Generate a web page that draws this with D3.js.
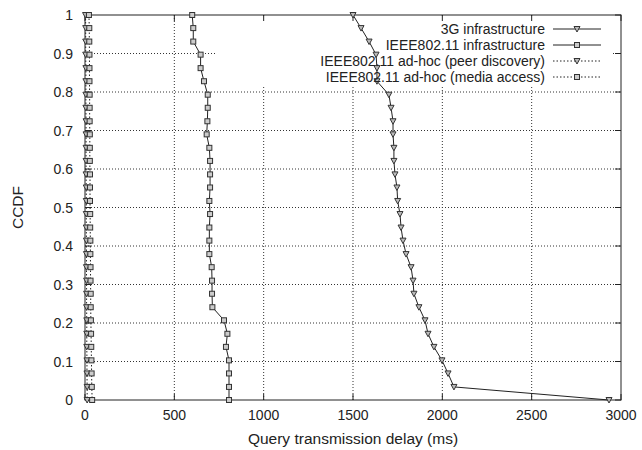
<!DOCTYPE html>
<html lang="en">
<head>
<meta charset="UTF-8">
<title>CCDF of query transmission delay</title>
<script src="https://d3js.org/d3.v7.min.js"></script>
<style>
    body { margin: 0; background: #fff; }
    text { font-family: "Liberation Sans", Arial, sans-serif; font-size: 14px; fill: #222; }
    .title { font-size: 15.5px; }
    .grid { stroke: #333; stroke-width: 1; stroke-dasharray: 1,2; fill: none; }
    .frame { stroke: #222; stroke-width: 1; fill: none; }
</style>
</head>
<body>
<svg width="642" height="450"></svg>
<script>
// CCDF levels shared by every series
const ccdf = [1, 0.966, 0.931, 0.897, 0.862, 0.828, 0.793, 0.759, 0.724, 0.690,
              0.655, 0.621, 0.586, 0.552, 0.517, 0.483, 0.448, 0.414, 0.379, 0.345,
              0.310, 0.276, 0.241, 0.207, 0.172, 0.138, 0.103, 0.069, 0.034, 0];

// delays in ms
const g3Infra = [1500, 1545, 1590, 1629, 1634, 1634, 1701, 1713, 1724, 1724,
                 1729, 1729, 1735, 1746, 1750, 1763, 1769, 1780, 1797, 1825,
                 1836, 1841, 1869, 1903, 1920, 1953, 1998, 2032, 2065, 2933];
const wifiInfra = [600, 606, 606, 647, 647, 666, 687, 687, 685, 681,
                   696, 700, 700, 700, 696, 700, 696, 696, 696, 709,
                   711, 711, 713, 778, 797, 789, 806, 806, 806, 806];
const adhocPeer = [3, 4, 4, 4, 5, 5, 5, 5, 6, 6,
                   6, 6, 6, 7, 7, 7, 7, 8, 8, 8,
                   9, 9, 9, 10, 10, 10, 11, 11, 12, 12];
const adhocMedia = [22, 24, 24, 25, 25, 25, 26, 26, 26, 27,
                    27, 27, 28, 28, 28, 29, 29, 30, 30, 31,
                    31, 32, 32, 33, 34, 35, 36, 37, 38, 40];

const xTicks = [0, 500, 1000, 1500, 2000, 2500, 3000];
const yTicks = [0, 0.1, 0.2, 0.3, 0.4, 0.5, 0.6, 0.7, 0.8, 0.9, 1];

const seriesNames = ["3G infrastructure", "IEEE802.11 infrastructure",
                     "IEEE802.11 ad-hoc (peer discovery)", "IEEE802.11 ad-hoc (media access)"];

const series = [
    { name: seriesNames[0], xs: g3Infra, marker: "tri", dash: null },
    { name: seriesNames[1], xs: wifiInfra, marker: "sq", dash: null },
    { name: seriesNames[2], xs: adhocPeer, marker: "tri", dash: "1.5,2" },
    { name: seriesNames[3], xs: adhocMedia, marker: "sq", dash: "1.5,2" }
];

const svg = d3.select("svg");
const L = 85, R = 621, T = 15, B = 400;

const x = d3.scaleLinear().domain([0, 3000]).range([L, R]);
const y = d3.scaleLinear().domain([0, 1]).range([B, T]);

// grid
const grid = svg.append("g");
grid.selectAll("line.gy").data(yTicks.slice(1, -1)).enter().append("line")
    .attr("class", "grid")
    .attr("x1", L).attr("x2", R)
    .attr("y1", d => y(d)).attr("y2", d => y(d));
grid.selectAll("line.gx").data(xTicks.slice(1, -1)).enter().append("line")
    .attr("class", "grid")
    .attr("x1", d => x(d)).attr("x2", d => x(d))
    .attr("y1", T).attr("y2", B);

// key background blanks the grid behind it
svg.append("rect")
    .attr("x", 217).attr("y", T + 2)
    .attr("width", 395).attr("height", 68)
    .attr("fill", "#fff");

// frame + ticks (inward, mirrored)
svg.append("rect").attr("class", "frame")
    .attr("x", L).attr("y", T).attr("width", R - L).attr("height", B - T);

const tk = 6;
const ticks = svg.append("g").attr("stroke", "#222");
yTicks.forEach(v => {
    ticks.append("line").attr("x1", L).attr("x2", L + tk).attr("y1", y(v)).attr("y2", y(v));
    ticks.append("line").attr("x1", R).attr("x2", R - tk).attr("y1", y(v)).attr("y2", y(v));
});
xTicks.forEach(v => {
    ticks.append("line").attr("x1", x(v)).attr("x2", x(v)).attr("y1", B).attr("y2", B - tk);
    ticks.append("line").attr("x1", x(v)).attr("x2", x(v)).attr("y1", T).attr("y2", T + tk);
});

// tick labels
svg.selectAll("text.yl").data(yTicks).enter().append("text")
    .attr("x", L - 12).attr("y", d => y(d) + 5)
    .attr("text-anchor", "end")
    .text(d => d3.format("")(d));
svg.selectAll("text.xl").data(xTicks).enter().append("text")
    .attr("x", d => x(d)).attr("y", B + 20)
    .attr("text-anchor", "middle")
    .text(d => d);

// axis titles
svg.append("text").attr("class", "title")
    .attr("x", (L + R) / 2).attr("y", 444)
    .attr("text-anchor", "middle")
    .text("Query transmission delay (ms)");
svg.append("text").attr("class", "title")
    .attr("transform", `translate(23,${(T + B) / 2}) rotate(-90)`)
    .attr("text-anchor", "middle")
    .text("CCDF");

// markers
function drawMarker(g, cx, cy, type) {
    if (type === "tri") {
        g.append("path")
            .attr("d", `M${cx - 3},${cy - 2.5} L${cx + 3},${cy - 2.5} L${cx},${cy + 3} Z`)
            .attr("fill", "#bbb").attr("stroke", "#333").attr("stroke-width", 1);
    } else {
        g.append("rect")
            .attr("x", cx - 2.5).attr("y", cy - 2.5).attr("width", 5).attr("height", 5)
            .attr("fill", "#ccc").attr("stroke", "#333").attr("stroke-width", 1);
    }
}

const line = d3.line().x(d => x(d[0])).y(d => y(d[1]));

series.forEach(s => {
    const pts = s.xs.map((v, i) => [v, ccdf[i]]);
    const g = svg.append("g");
    g.append("path")
        .attr("d", line(pts))
        .attr("fill", "none")
        .attr("stroke", "#222")
        .attr("stroke-width", 1)
        .attr("stroke-dasharray", s.dash);
    pts.forEach(p => drawMarker(g, x(p[0]), y(p[1]), s.marker));
});

// legend
const keyRows = [29, 45, 61, 77];
series.forEach((s, i) => {
    const ry = keyRows[i];
    svg.append("text")
        .attr("x", 545).attr("y", ry + 5)
        .attr("text-anchor", "end")
        .text(s.name);
    svg.append("line")
        .attr("x1", 553).attr("x2", 601).attr("y1", ry).attr("y2", ry)
        .attr("stroke", "#222").attr("stroke-width", 1)
        .attr("stroke-dasharray", s.dash);
    drawMarker(svg, 577, ry, s.marker);
});
</script>
</body>
</html>
